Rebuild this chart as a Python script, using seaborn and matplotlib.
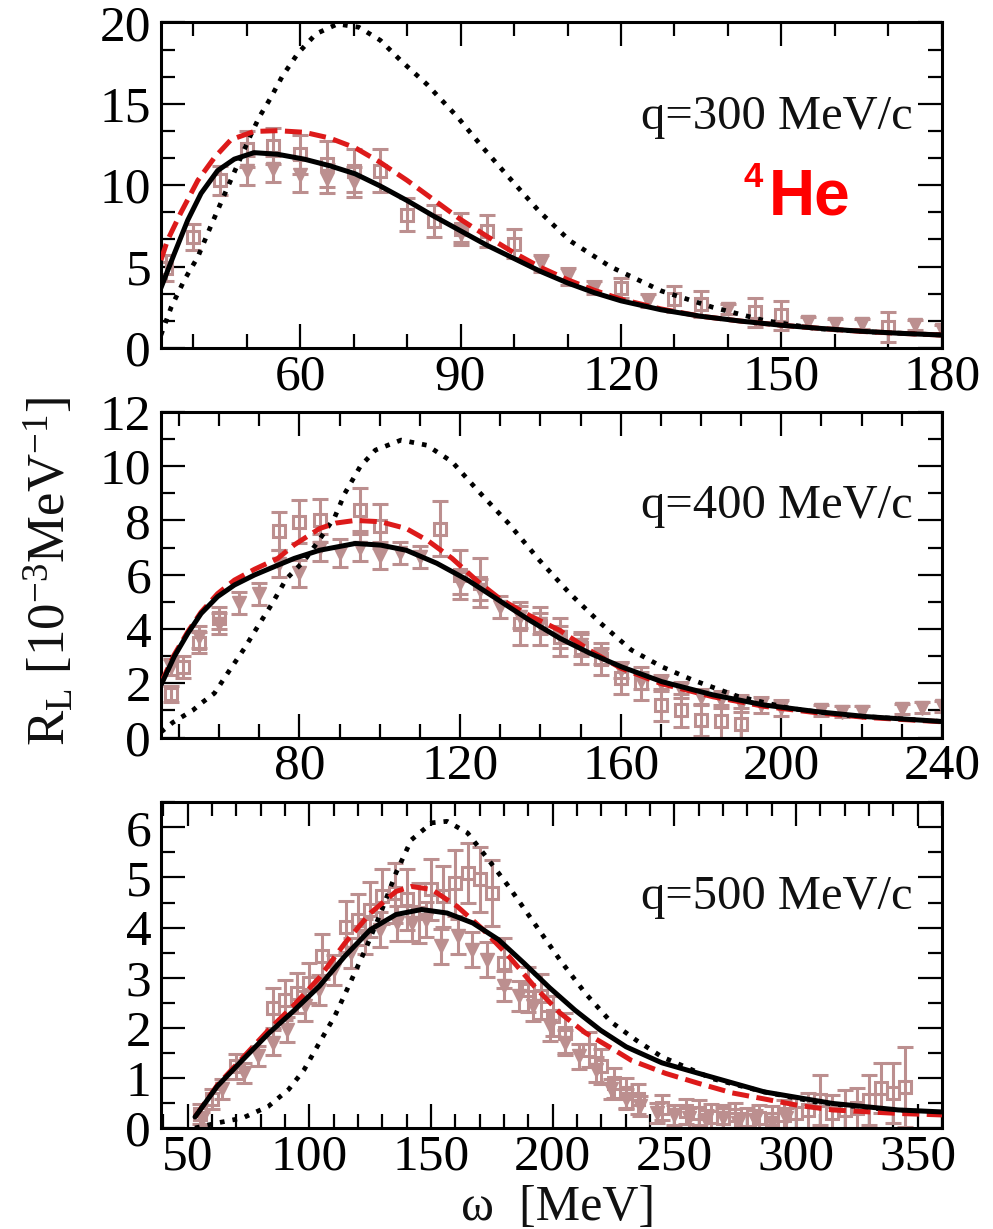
import matplotlib
matplotlib.use("Agg")
from matplotlib import pyplot as plt
from matplotlib.ticker import MultipleLocator
import seaborn as sns

# q = 300 MeV/c : model curves
OMEGA_300_SOLID = [34, 36.5, 39, 41.5, 44.6, 47.7, 51.4, 55.8, 60.8, 65.5, 70.3, 75, 80, 85, 90, 95,
                   100, 105, 110, 115, 120, 127.5, 135, 142.5, 150, 157.5, 165, 172.5, 180]
RL_300_SOLID = [3.7, 5.8, 7.85, 9.5, 10.9, 11.6, 12.0, 11.9, 11.6, 11.2, 10.7, 9.95, 9.06, 8.1, 7.2, 6.3,
                5.5, 4.7, 4.0, 3.4, 2.9, 2.35, 1.95, 1.65, 1.4, 1.2, 1.03, 0.9, 0.8]
OMEGA_300_DASH = [34, 35.2, 37.7, 40.9, 44, 47.1, 51.4, 55.8, 60.8, 65.5, 70.3, 75, 80, 85, 90, 95,
                  100, 105, 110, 115, 120, 127.5, 135, 142.5, 150, 157.5, 165, 172.5, 180]
RL_300_DASH = [5.4, 6.6, 8.3, 10.3, 11.7, 12.8, 13.3, 13.35, 13.25, 12.9, 12.3, 11.4, 10.3, 9.1, 7.9, 6.85,
               5.85, 4.95, 4.2, 3.55, 3.0, 2.4, 1.95, 1.65, 1.4, 1.2, 1.02, 0.9, 0.8]
OMEGA_300_DOT = [34, 35.9, 38.4, 40.9, 43.2, 45.7, 47.7, 50.8, 52.4, 54.4, 56.7, 59.6, 63, 67, 71, 75,
                 79, 83.7, 89.4, 94.2, 99, 104.7, 110.4, 118, 127.6, 137.2, 146.7, 156.3, 165.9, 180]
RL_300_DOT = [0.8, 2.5, 4.2, 5.6, 7.4, 9.3, 10.8, 13.1, 14.2, 15.3, 16.7, 18.1, 19.3, 19.9, 19.7, 18.9,
              17.6, 16.2, 14.2, 12.3, 10.5, 8.4, 6.6, 5.0, 3.5, 2.5, 1.7, 1.2, 1.0, 0.8]

# q = 300 MeV/c : experimental points
SQ_300_X = [35, 40, 45, 50, 55, 60, 65, 70, 75, 80, 85, 90, 95, 100, 120, 130, 135, 145, 150, 170]
SQ_300_Y = [4.9, 6.8, 10.3, 12.2, 12.4, 11.9, 11.3, 10.9, 10.9, 8.2, 7.8, 7.3, 7.2, 6.4, 3.7, 3.0, 2.7,
            2.2, 2.0, 1.3]
SQ_300_ERR = [0.8, 0.8, 0.9, 1.1, 1.1, 1.2, 1.4, 1.3, 1.3, 1.0, 1.0, 1.0, 1.0, 0.9, 0.6, 0.8, 0.8, 0.9,
              0.9, 0.9]
TRI_300_X = [50, 55, 60, 65, 70, 90, 105, 110, 115, 125, 140, 155, 160, 165, 175, 180]
TRI_300_Y = [10.9, 11.0, 10.6, 10.4, 10.2, 7.0, 5.2, 4.4, 3.7, 2.9, 2.4, 1.6, 1.5, 1.5, 1.4, 1.1]
TRI_300_ERR = [0.9, 0.8, 1.0, 0.9, 0.9, 0.5, 0.5, 0.5, 0.4, 0.4, 0.3, 0.3, 0.3, 0.3, 0.3, 0.3]

# q = 400 MeV/c
OMEGA_400_SOLID = [45.5, 48.8, 52.2, 55.5, 59.6, 63.8, 68.8, 74.6, 78.7, 85, 93.9, 100.2, 106.6, 114.2,
                   121.9, 129.5, 137.2, 144.8, 152.4, 160.1, 170.2, 183, 195.7, 208.4, 221.2, 240]
RL_400_SOLID = [1.93, 2.98, 3.84, 4.57, 5.19, 5.62, 5.99, 6.35, 6.6, 6.9, 7.15, 7.09, 6.9, 6.42,
                5.8, 5.07, 4.33, 3.66, 3.1, 2.61, 2.06, 1.57, 1.2, 0.96, 0.77, 0.59]
OMEGA_400_DASH = [45.5, 48.8, 52.2, 55.5, 59.6, 63.8, 68.8, 74.6, 78.7, 85, 89, 93.9, 100.2, 106.6, 112,
                  118, 124.4, 130, 137.2, 144.8, 152.4, 160.1, 170.2, 183, 195.7, 208.4, 221.2, 240]
RL_400_DASH = [2.0, 3.05, 3.9, 4.62, 5.3, 5.8, 6.2, 6.6, 7.1, 7.7, 7.9, 8.0, 7.95, 7.7, 7.25,
               6.6, 5.75, 5.1, 4.5, 3.95, 3.2, 2.55, 1.98, 1.5, 1.15, 0.92, 0.74, 0.58]
OMEGA_400_DOT = [45.5, 48.4, 50.5, 53.4, 55.5, 58.8, 62.1, 66.3, 69.6, 73, 76.7, 81.1, 85, 88.8, 91.3,
                 95.1, 98.9, 105.3, 111.7, 118, 124.4, 132, 139.7, 147.3, 155, 162.6, 170.2, 177.9,
                 189.3, 202, 214.8, 227.5, 240]
RL_400_DOT = [0.2, 0.55, 0.74, 1.0, 1.26, 1.63, 2.37, 3.29, 4.09, 4.89, 5.84, 6.5, 7.3, 8.13, 9.0,
              9.98, 10.59, 10.96, 10.77, 10.16, 9.1, 7.9, 6.54, 5.31, 4.21, 3.23, 2.61, 2.12,
              1.51, 1.08, 0.83, 0.71, 0.59]

SQ_400_X = [48, 51, 55, 60, 75, 80, 85, 95, 100, 115, 120, 125, 135, 140, 145, 150, 155, 160, 165,
            170, 175, 180, 185, 190]
SQ_400_Y = [1.6, 2.6, 3.5, 4.4, 7.6, 7.95, 8.0, 8.4, 7.8, 7.7, 6.0, 5.7, 4.2, 4.1, 3.7, 3.3, 2.9, 2.2,
            2.0, 1.2, 1.0, 0.65, 0.6, 0.5]
SQ_400_ERR = [0.3, 0.4, 0.4, 0.4, 0.7, 0.8, 0.8, 0.8, 0.8, 1.0, 0.9, 0.9, 0.8, 0.7, 0.7, 0.6, 0.6, 0.6,
              0.6, 0.6, 0.6, 0.6, 0.6, 0.6]
TRI_400_X = [48, 55, 60, 65, 70, 75, 80, 85, 90, 95, 100, 105, 110, 120, 125, 130, 135, 140, 145, 150,
             155, 160, 165, 170, 175, 180, 185, 190, 195, 200, 210, 215, 220, 230, 235, 240]
TRI_400_Y = [2.6, 3.7, 4.2, 4.95, 5.3, 6.4, 6.05, 7.0, 6.8, 7.0, 6.7, 6.8, 6.65, 5.7, 5.45, 4.8, 4.45,
             4.2, 3.7, 3.4, 3.0, 2.5, 2.1, 2.0, 1.75, 1.5, 1.4, 1.25, 1.2, 1.1, 1.0, 0.95, 0.95, 1.05,
             1.1, 1.15]
TRI_400_ERR = [0.3, 0.4, 0.4, 0.4, 0.4, 0.5, 0.5, 0.5, 0.5, 0.5, 0.5, 0.4, 0.4, 0.4, 0.4, 0.4, 0.4,
               0.4, 0.4, 0.4, 0.3, 0.3, 0.3, 0.3, 0.3, 0.3, 0.3, 0.3, 0.3, 0.3, 0.2, 0.2, 0.2, 0.2,
               0.2, 0.2]

# q = 500 MeV/c
OMEGA_500_SOLID = [53, 62.1, 72.6, 83.1, 93.6, 104.1, 114.6, 125.1, 135.6, 146.1, 156.6, 167.2, 177.7,
                   188.2, 198.7, 209.2, 219.7, 230.2, 244.9, 260, 287, 315, 342, 360]
RL_500_SOLID = [0.22, 0.83, 1.36, 1.88, 2.34, 2.83, 3.43, 3.96, 4.26, 4.36, 4.29, 4.09, 3.76,
                3.29, 2.8, 2.35, 1.95, 1.62, 1.3, 1.09, 0.72, 0.49, 0.36, 0.32]
OMEGA_500_DASH = [53, 62.1, 72.6, 83.1, 93.6, 104.1, 114.6, 125.1, 135.6, 141.9, 150.3, 160.8, 171.4,
                  181.9, 192.4, 202.9, 213.4, 223.9, 232.3, 246.4, 260, 273.8, 301, 315, 342, 360]
RL_500_DASH = [0.22, 0.85, 1.4, 1.95, 2.45, 3.0, 3.69, 4.29, 4.72, 4.82, 4.76, 4.42, 3.96,
               3.43, 2.83, 2.3, 1.9, 1.6, 1.35, 1.09, 0.89, 0.7, 0.45, 0.36, 0.29, 0.26]
OMEGA_500_DOT = [53, 62.1, 72.6, 83.1, 91.5, 97.8, 104.1, 110.4, 116.7, 123, 129.3, 135.6, 141.9,
                 150.3, 156.6, 165, 173.5, 181.9, 192.4, 202.9, 213.4, 223.9, 234.4, 244.9, 265.9,
                 286.9, 308, 329, 360]
RL_500_DOT = [0.0, 0.1, 0.2, 0.43, 0.77, 1.16, 1.7, 2.23, 2.89, 3.56, 4.29, 5.09, 5.75,
              6.09, 6.12, 5.89, 5.36, 4.82, 4.09, 3.36, 2.69, 2.12, 1.75, 1.42, 0.98,
              0.72, 0.52, 0.4, 0.3]

SQ_500_X = [55, 60, 70, 85, 90, 95, 100, 105, 115, 120, 125, 130, 135, 140, 145, 150, 155, 160, 165,
            170, 175, 180, 190, 195, 200, 205, 215, 220, 225, 230, 235, 245, 255, 260, 265, 270, 275,
            280, 285, 290, 295, 300, 305, 310, 315, 320, 325, 330, 335, 340, 345]
SQ_500_Y = [0.27, 0.57, 1.23, 2.4, 2.55, 2.7, 2.9, 3.43, 4.02, 4.16, 4.36, 4.62, 4.69, 4.56, 4.29,
            4.76, 4.62, 4.89, 5.09, 4.96, 4.69, 3.29, 2.76, 2.63, 2.23, 1.9, 1.56, 1.23, 0.9, 0.7,
            0.57, 0.4, 0.33, 0.3, 0.22, 0.2, 0.25, 0.15, 0.2, 0.18, 0.25, 0.3, 0.35, 0.55, 0.3, 0.35,
            0.4, 0.55, 0.8, 0.7, 0.82]
SQ_500_ERR = [0.2, 0.2, 0.25, 0.4, 0.4, 0.4, 0.4, 0.45, 0.5, 0.5, 0.55, 0.55, 0.6, 0.6, 0.6, 0.6,
              0.6, 0.65, 0.6, 0.65, 0.65, 0.5, 0.45, 0.45, 0.4, 0.4, 0.35, 0.35, 0.3, 0.3, 0.3, 0.25,
              0.25, 0.25, 0.25, 0.25, 0.25, 0.25, 0.25, 0.25, 0.3, 0.3, 0.35, 0.5, 0.35, 0.4, 0.4,
              0.5, 0.5, 0.6, 0.8]
TRI_500_X = [56, 64, 73, 79, 85, 91, 98, 104, 110, 117, 123, 129, 136, 142, 148, 154, 161, 167, 173,
             180, 186, 192, 199, 205, 211, 218, 224, 230, 236, 243, 250, 256, 263, 270, 276, 283,
             290, 296]
TRI_500_Y = [0.17, 0.77, 1.1, 1.43, 1.7, 1.96, 2.43, 2.76, 3.16, 3.49, 3.83, 3.96, 4.09, 4.09, 4.16,
             3.63, 3.83, 3.56, 3.36, 2.83, 2.63, 2.43, 2.03, 1.7, 1.43, 1.16, 0.77, 0.57, 0.43, 0.3,
             0.25, 0.2, 0.15, 0.2, 0.1, 0.15, 0.1, 0.2]
TRI_500_ERR = [0.15, 0.2, 0.2, 0.2, 0.25, 0.25, 0.3, 0.3, 0.3, 0.3, 0.35, 0.35, 0.35, 0.35, 0.35,
               0.35, 0.35, 0.35, 0.35, 0.3, 0.3, 0.3, 0.3, 0.25, 0.25, 0.25, 0.2, 0.2, 0.2, 0.2,
               0.2, 0.2, 0.2, 0.2, 0.2, 0.2, 0.2, 0.2]

DATA_COLOR = '#bc8f8f'
RED = '#dd1a1a'

sns.set_theme(style="ticks")
plt.rcParams['font.family'] = ['Liberation Serif', 'DejaVu Serif']
plt.rcParams['mathtext.fontset'] = 'custom'
plt.rcParams['mathtext.rm'] = 'Liberation Serif'
plt.rcParams['mathtext.it'] = 'Liberation Serif:italic'

fig = plt.figure(figsize=(9.93, 12.29), dpi=100)
fig.patch.set_facecolor('white')

panels = [
    dict(q='q=300 MeV/c', bottom=0.7168, xlim=(34, 180), ylim=(0, 20), xmaj=30, xmin=10, ymaj=5, ymin=5 / 3,
         solid=(OMEGA_300_SOLID, RL_300_SOLID), dash=(OMEGA_300_DASH, RL_300_DASH),
         dot=(OMEGA_300_DOT, RL_300_DOT),
         sq=(SQ_300_X, SQ_300_Y, SQ_300_ERR), tri=(TRI_300_X, TRI_300_Y, TRI_300_ERR)),
    dict(q='q=400 MeV/c', bottom=0.3999, xlim=(45.5, 240), ylim=(0, 12), xmaj=40, xmin=10, ymaj=2, ymin=1,
         solid=(OMEGA_400_SOLID, RL_400_SOLID), dash=(OMEGA_400_DASH, RL_400_DASH),
         dot=(OMEGA_400_DOT, RL_400_DOT),
         sq=(SQ_400_X, SQ_400_Y, SQ_400_ERR), tri=(TRI_400_X, TRI_400_Y, TRI_400_ERR)),
    dict(q='q=500 MeV/c', bottom=0.0822, xlim=(39, 360), ylim=(0, 6.5), xmaj=50, xmin=10, ymaj=1, ymin=0.5,
         solid=(OMEGA_500_SOLID, RL_500_SOLID), dash=(OMEGA_500_DASH, RL_500_DASH),
         dot=(OMEGA_500_DOT, RL_500_DOT),
         sq=(SQ_500_X, SQ_500_Y, SQ_500_ERR), tri=(TRI_500_X, TRI_500_Y, TRI_500_ERR)),
]

for p in panels:
    ax = fig.add_axes([0.1621, p['bottom'], 0.7865, 0.2650])
    ax.set_facecolor('white')

    # experimental points
    x, y, e = p['sq']
    ax.errorbar(x, y, yerr=e, fmt='s', ms=9, mfc='none', mec=DATA_COLOR, mew=2.2, ecolor=DATA_COLOR,
                elinewidth=2.2, capsize=5.5, capthick=2.2, zorder=1)
    x, y, e = p['tri']
    ax.errorbar(x, y, yerr=e, fmt='v', ms=10, mfc=DATA_COLOR, mec=DATA_COLOR, ecolor=DATA_COLOR,
                elinewidth=2.2, capsize=5.5, capthick=2.2, zorder=1)

    # model curves
    sns.lineplot(x=p['dot'][0], y=p['dot'][1], ax=ax, color='black', lw=3.4,
                 linestyle=(0, (1, 1.7)), sort=False, estimator=None, zorder=3)
    sns.lineplot(x=p['dash'][0], y=p['dash'][1], ax=ax, color=RED, lw=3.6,
                 linestyle=(0, (3.4, 1.5)), sort=False, estimator=None, zorder=4)
    sns.lineplot(x=p['solid'][0], y=p['solid'][1], ax=ax, color='black', lw=3.6,
                 sort=False, estimator=None, zorder=5)

    ax.set_xlim(*p['xlim'])
    ax.set_ylim(*p['ylim'])
    ax.xaxis.set_major_locator(MultipleLocator(p['xmaj']))
    ax.xaxis.set_minor_locator(MultipleLocator(p['xmin']))
    ax.yaxis.set_major_locator(MultipleLocator(p['ymaj']))
    ax.yaxis.set_minor_locator(MultipleLocator(p['ymin']))
    ax.tick_params(which='both', direction='in', top=True, right=True, color='black', width=1.6,
                   labelsize=37, labelcolor='black')
    ax.tick_params(which='major', length=17)
    ax.tick_params(which='minor', length=10)
    ax.tick_params(axis='y', pad=7)
    ax.tick_params(axis='x', pad=4)
    for s in ax.spines.values():
        s.set_color('black')
        s.set_linewidth(2.2)
    ax.set_xlabel('')
    ax.set_ylabel('')

    ax.text(0.962, 0.71, p['q'], transform=ax.transAxes, ha='right', va='center', fontsize=35,
            color='#111111', zorder=6)

    if p['q'].startswith('q=300'):
        ax.text(0.7785, 0.411, 'He', transform=ax.transAxes, ha='left', va='baseline', fontsize=46,
                fontweight='bold', family=['Liberation Sans', 'DejaVu Sans'], color='#ff0000', zorder=6)
        ax.text(0.7465, 0.494, '4', transform=ax.transAxes, ha='left', va='baseline', fontsize=25,
                fontweight='bold', family=['Liberation Sans', 'DejaVu Sans'], color='#ff0000', zorder=6)

fig.text(0.05, 0.535, r'R$_\mathrm{L}$ [10$^{-3}$MeV$^{-1}$]', rotation=90, ha='center', va='center',
         fontsize=38, color='#111111')
fig.text(0.562, 0.007, 'ω  [MeV]', ha='center', va='baseline', fontsize=36, color='#111111')

fig.savefig('out.png', dpi=100, facecolor='white')
